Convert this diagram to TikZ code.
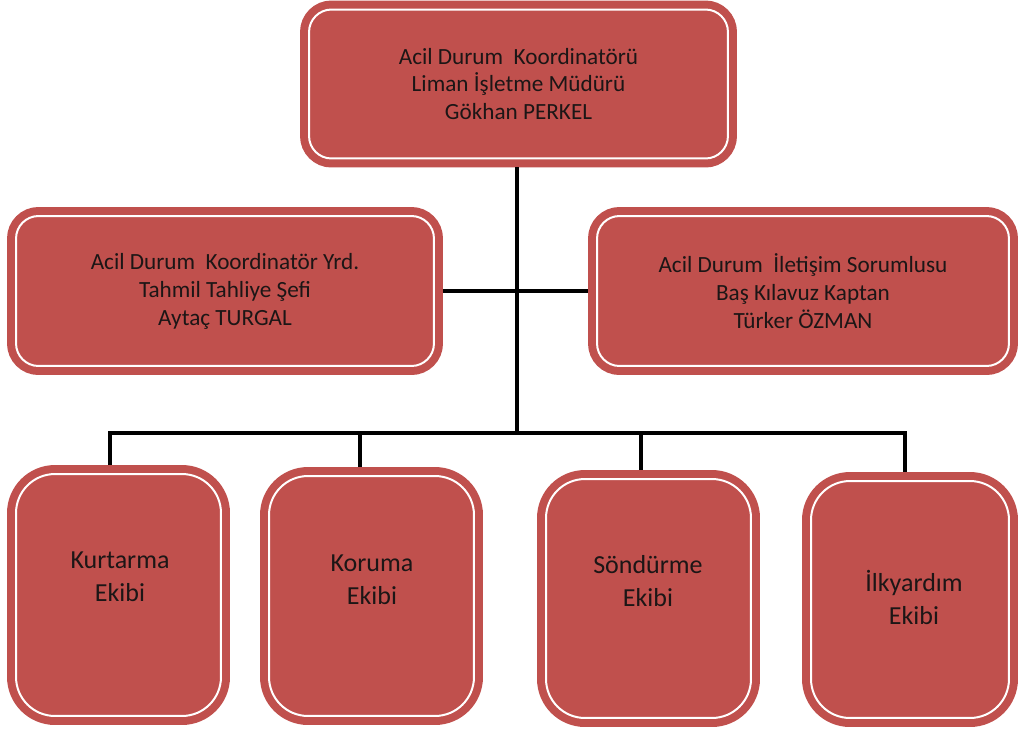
\documentclass[tikz,border=0pt]{standalone}
\usepackage{fontspec}
\setmainfont{Carlito}
\usetikzlibrary{positioning, calc}
\definecolor{boxred}{RGB}{192, 80, 77}
\definecolor{inkdark}{RGB}{28, 22, 22}

\tikzset{
  rolebox/.style={draw=boxred, double=white, double distance=0.04cm, line width=0.16cm,
    fill=boxred, rounded corners=0.45cm, inner sep=0pt, outer sep=0.18cm,
    text=inkdark, align=center, font=\fontsize{13.2}{15.9}\selectfont},
  teambox/.style={rolebox, rounded corners=0.78cm, minimum width=4.1cm},
  teamtext/.style={text=inkdark, align=center, font=\fontsize{14.8}{18.8}\selectfont},
  link/.style={draw=black, line width=0.09cm}
}

\begin{document}
\begin{tikzpicture}[x=0.02cm, y=-0.02cm]
  \useasboundingbox (0,0) rectangle (1018,731);

  % coordinator and assistants
  \node[rolebox, minimum width=8.38cm, minimum height=2.98cm] (koord) at (518.5, 84)
    {Acil Durum~ Koordinatörü\\Liman İşletme Müdürü\\Gökhan PERKEL};
  \node[rolebox, minimum width=8.36cm, minimum height=3cm] (yrd) at (225, 291)
    {Acil Durum~ Koordinatör Yrd.\\Tahmil Tahliye Şefi\\Aytaç TURGAL};
  \node[rolebox, minimum width=8.24cm, minimum height=3cm] (iletisim) at (803, 291)
    {Acil Durum~ İletişim Sorumlusu\\Baş Kılavuz Kaptan\\Türker ÖZMAN};

  % teams
  \node[teambox, minimum height=4.84cm] (kurtarma) at (118.5, 595) {};
  \node[teambox, minimum height=4.8cm] (koruma) at (371.5, 596) {};
  \node[teambox, minimum height=4.78cm] (sondurme) at (648.5, 598.5) {};
  \node[teambox, minimum width=3.96cm, minimum height=4.74cm] (ilkyardim) at (910, 599.5) {};

  \node[teamtext] (kurtarmat) at (120, 577) {Kurtarma\\Ekibi};
  \node[teamtext] (korumat) at (372, 580) {Koruma\\Ekibi};
  \node[teamtext] (sondurmet) at (648, 581) {Söndürme\\Ekibi};
  \node[teamtext] (ilkyardimt) at (914, 597) {İlkyardım\\Ekibi};

  % connectors
  \coordinate (bus) at (517, 433);
  \coordinate (b1) at (110, 433);
  \coordinate (b2) at (360, 433);
  \coordinate (b3) at (641, 433);
  \coordinate (b4) at (905, 433);

  \draw[link] (koord.south -| bus) -- (bus);
  \draw[link] (yrd.east) -- (iletisim.west);
  \draw[link] (b1 |- kurtarma.north) -- (b1) -- (b4) -- (b4 |- ilkyardim.north);
  \draw[link] (b2) -- (b2 |- koruma.north);
  \draw[link] (b3) -- (b3 |- sondurme.north);
\end{tikzpicture}
\end{document}
